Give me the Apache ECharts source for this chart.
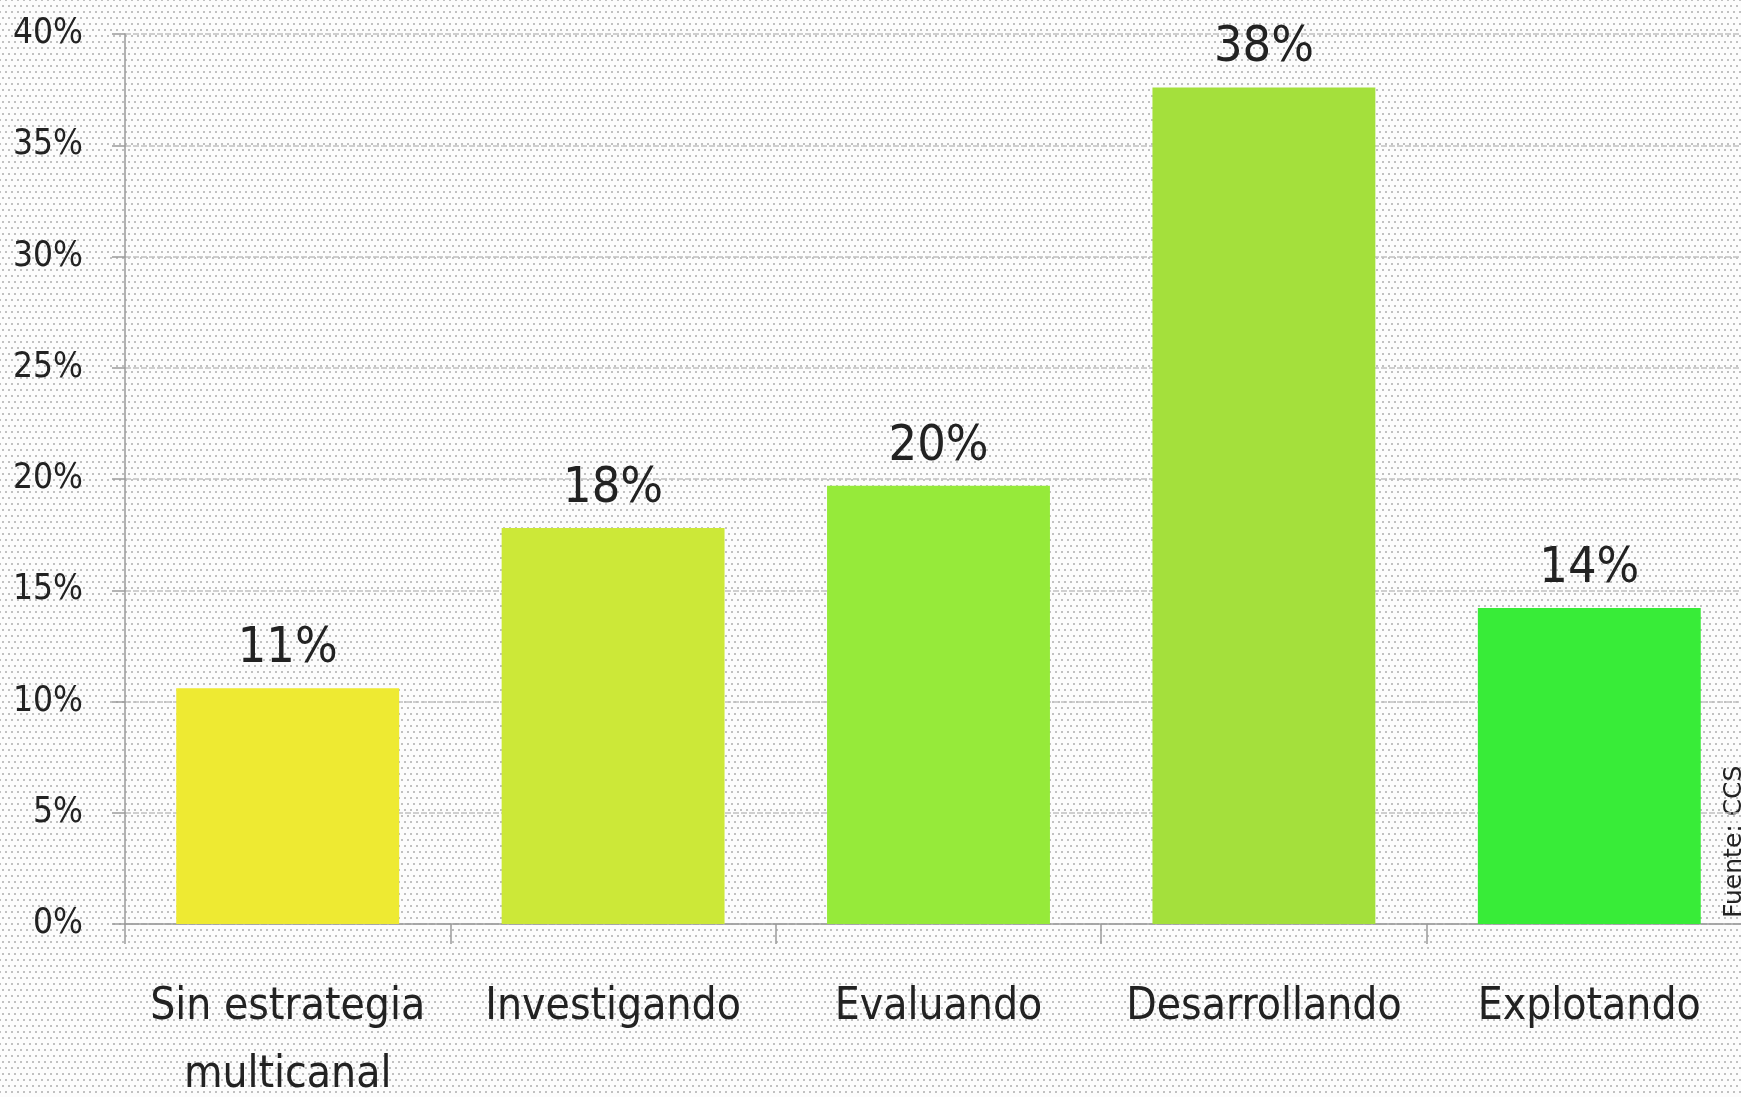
<!DOCTYPE html>
<html>
<head>
<meta charset="utf-8">
<script src="https://cdn.jsdelivr.net/npm/echarts@6/dist/echarts.min.js"></script>
<style>
  html, body {
    margin: 0;
    padding: 0;
    overflow: hidden;
    width: 1741px;
    height: 1097px;
    background-color: #fcfcfc;
    background-image:
      radial-gradient(circle, #b0b0b0 0.6px, transparent 1.1px),
      radial-gradient(circle, #b0b0b0 0.6px, transparent 1.1px);
    background-size: 6px 12px, 6px 12px;
    background-position: 0 0, 3px 6px;
  }
  #chart { width: 1752px; height: 1097px; }
</style>
</head>
<body>
<div id="chart"></div>
<script>
// etapas de la estrategia multicanal
const categories = ['Sin estrategia\nmulticanal', 'Investigando', 'Evaluando', 'Desarrollando', 'Explotando'];
const values = [10.6, 17.8, 19.7, 37.6, 14.2];
const barColors = ['#eeea32', '#cce838', '#96ea3a', '#a4e03c', '#38ec38'];
const yTicks = { min: 0, max: 40, interval: 5 };
const source = 'Fuente: CCS';

const font = '"DejaVu Sans Condensed", "Liberation Sans", sans-serif';

const myChart = echarts.init(document.getElementById('chart'));

const option = {
    animation: false,
    grid: {
        left: 125,
        right: 0,
        top: 34,
        bottom: 173,
        outerBoundsMode: 'none'
    },
    xAxis: {
        type: 'category',
        data: categories,
        axisLine: { lineStyle: { color: '#9a9a9a', width: 1.5 } },
        axisTick: { show: true, length: 20, lineStyle: { color: '#9a9a9a', width: 1.5 } },
        axisLabel: {
            interval: 0,
            margin: 50,
            fontFamily: font,
            fontSize: 44,
            lineHeight: 68,
            color: '#222'
        }
    },
    yAxis: {
        type: 'value',
        min: yTicks.min,
        max: yTicks.max,
        interval: yTicks.interval,
        axisLine: { show: true, lineStyle: { color: '#9a9a9a', width: 1.5 } },
        axisTick: { show: true, length: 13, lineStyle: { color: '#9a9a9a', width: 1.5 } },
        axisLabel: {
            formatter: '{value}%',
            margin: 42,
            fontFamily: font,
            fontSize: 35,
            color: '#222'
        },
        splitLine: {
            lineStyle: { color: '#c0c0c0', type: [6, 2], width: 1.5 }
        }
    },
    series: [
        {
            type: 'bar',
            barCategoryGap: '31.5%',
            data: values.map((v, i) => ({ value: v, itemStyle: { color: barColors[i] } })),
            label: {
                show: true,
                position: 'top',
                distance: 14,
                formatter: p => Math.round(p.value) + '%',
                fontFamily: font,
                fontSize: 50,
                color: '#222'
            }
        }
    ],
    graphic: [
        {
            type: 'text',
            x: 1747,
            y: 918,
            rotation: Math.PI / 2,
            style: {
                text: source,
                fontFamily: '"DejaVu Sans", sans-serif',
                fontSize: 25,
                fill: '#222',
                align: 'left',
                verticalAlign: 'bottom'
            }
        }
    ]
};

myChart.setOption(option);
</script>
</body>
</html>
